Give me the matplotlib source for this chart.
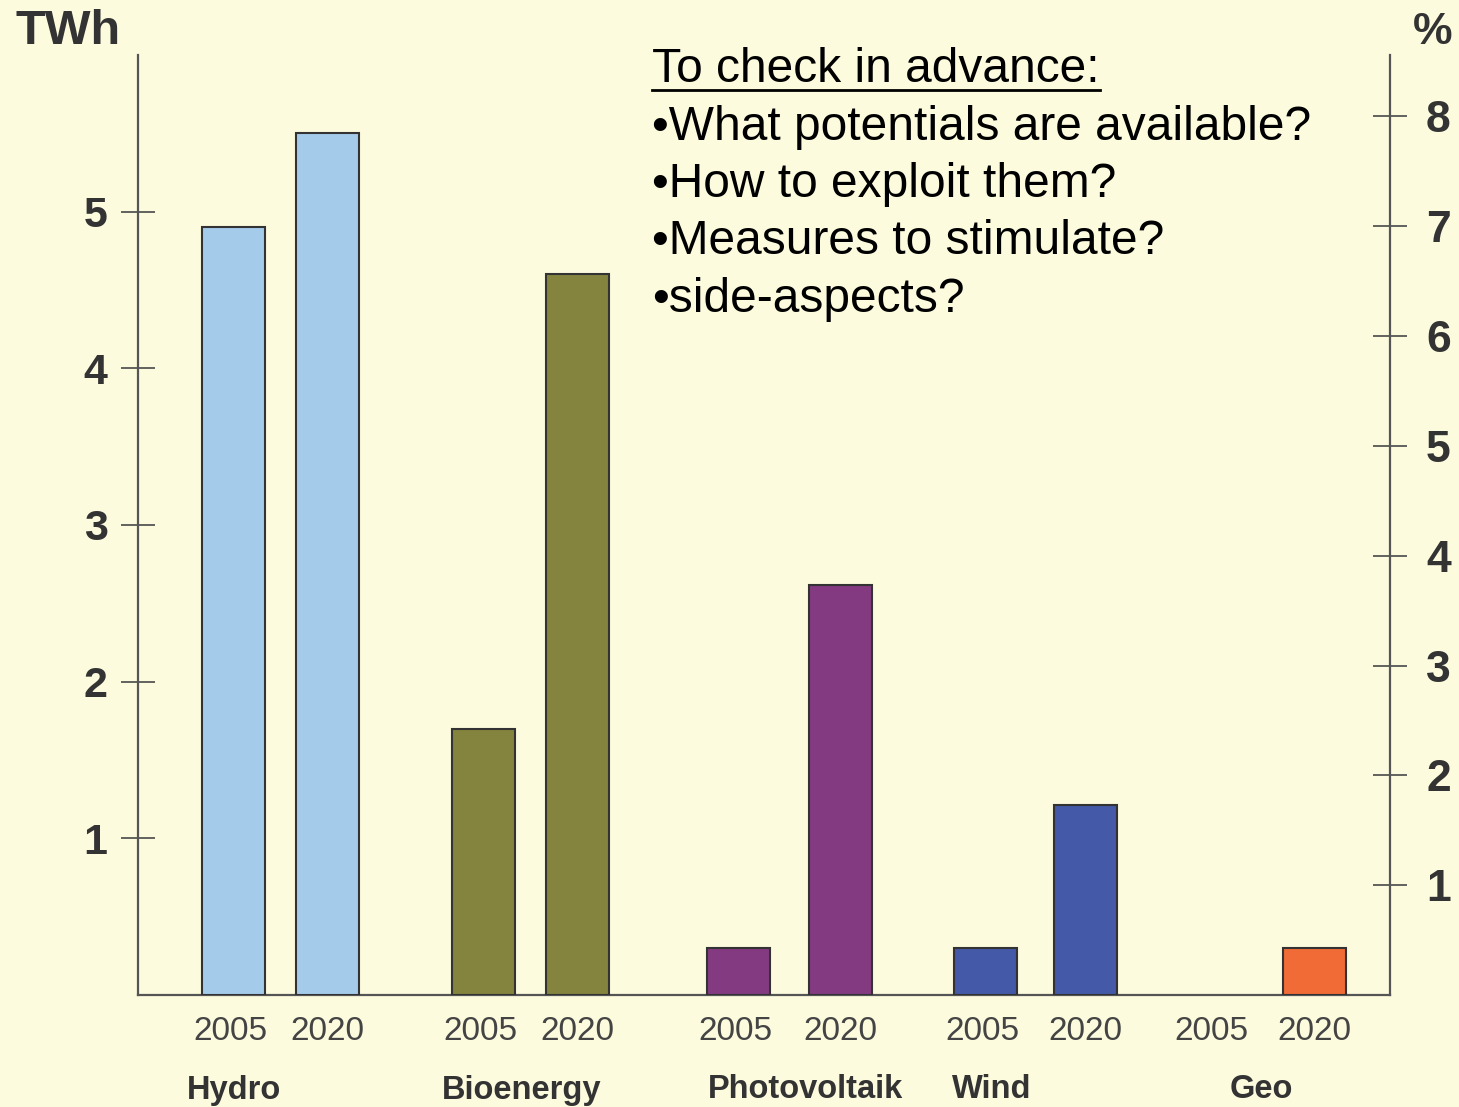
import matplotlib
matplotlib.use("Agg")
import matplotlib.pyplot as plt
from matplotlib.lines import Line2D

plt.rcParams['font.family'] = ['Liberation Sans', 'DejaVu Sans']

categories = ["Hydro", "Bioenergy", "Photovoltaik", "Wind", "Geo"]
years = ["2005", "2020"]
values_2005 = [4.9, 1.7, 0.3, 0.3, 0.0]
values_2020 = [5.5, 4.6, 2.62, 1.21, 0.3]
colors = ["#A5CBEB", "#84843F", "#833A80", "#4459A7", "#F06B35"]
left_ticks = [1, 2, 3, 4, 5]
right_ticks = [1, 2, 3, 4, 5, 6, 7, 8]
notes_title = "To check in advance:"
notes = ["\u2022What potentials are available?",
         "\u2022How to exploit them?",
         "\u2022Measures to stimulate?",
         "\u2022side-aspects?"]

# layout (axis units spanning the plot width)
pos_2005 = [233, 483, 738, 985, 1214]
pos_2020 = [327, 577, 840, 1085, 1314]
cat_label_x = [234, 522, 805, 992, 1261]
bar_w = 63

BG = "#FDFBDE"
AX = "#555555"
W, H = 1459, 1107
fig = plt.figure(figsize=(W / 100, H / 100), dpi=100, facecolor=BG)
ax = fig.add_axes([138 / W, (H - 995) / H, (1390 - 138) / W, (995 - 55) / H])
ax.set_facecolor(BG)
ax.set_xlim(138, 1390)
ax.set_ylim(0, 6.0)

for v5, v20, p5, p20, c in zip(values_2005, values_2020, pos_2005, pos_2020, colors):
    if v5 > 0:
        ax.bar(p5, v5, width=bar_w, color=c, edgecolor="#333333", linewidth=1.5, zorder=3)
    if v20 > 0:
        ax.bar(p20, v20, width=bar_w, color=c, edgecolor="#333333", linewidth=1.5, zorder=3)

for s in ["top", "right"]:
    ax.spines[s].set_visible(False)
for s in ["left", "bottom"]:
    ax.spines[s].set_color(AX)
    ax.spines[s].set_linewidth(1.6)

ax.set_yticks(left_ticks)
ax.set_yticklabels([str(t) for t in left_ticks], fontsize=31, fontweight="bold", color="#333333")
ax.tick_params(axis="y", direction="inout", length=24, width=1.3, color=AX, pad=10)

xt = []
xl = []
for p5, p20 in zip(pos_2005, pos_2020):
    xt += [p5 - 3, p20]
    xl += years
ax.set_xticks(xt)
ax.set_xticklabels(xl, fontsize=24, color="#444444")
ax.tick_params(axis="x", length=0, pad=15)

ax2 = ax.twinx()
ax2.set_ylim(0, 8.56)
for s in ["top", "left", "bottom"]:
    ax2.spines[s].set_visible(False)
ax2.spines["right"].set_color(AX)
ax2.spines["right"].set_linewidth(1.6)
ax2.set_yticks(right_ticks)
ax2.set_yticklabels([str(t) for t in right_ticks], fontsize=32, fontweight="bold", color="#333333")
ax2.tick_params(axis="y", direction="inout", length=24, width=1.3, color=AX, pad=14)

for x, name in zip(cat_label_x, categories):
    fig.text(x / W, 1 - 1090 / H, name, ha="center", va="center",
             fontsize=23.5, fontweight="bold", color="#333333")

fig.text(15 / W, 1 - 31 / H, "TWh", ha="left", va="center", fontsize=35,
         fontweight="bold", color="#333333")
fig.text(1452 / W, 1 - 32 / H, "%", ha="right", va="center", fontsize=32,
         fontweight="bold", color="#333333")

t0 = fig.text(652 / W, 1 - 70 / H, notes_title, ha="left", va="center", fontsize=34.5, color="black")
for i, line in enumerate(notes):
    fig.text(652 / W, 1 - (127 + 57.5 * i) / H, line, ha="left", va="center",
             fontsize=34.5, color="black")

fig.canvas.draw()
bb = t0.get_window_extent(renderer=fig.canvas.get_renderer())
uy = 1 - 90 / H
fig.add_artist(Line2D([bb.x0 / W, bb.x1 / W], [uy, uy], transform=fig.transFigure,
                      color="black", linewidth=2))

fig.savefig("out.png", dpi=100, facecolor=BG)
